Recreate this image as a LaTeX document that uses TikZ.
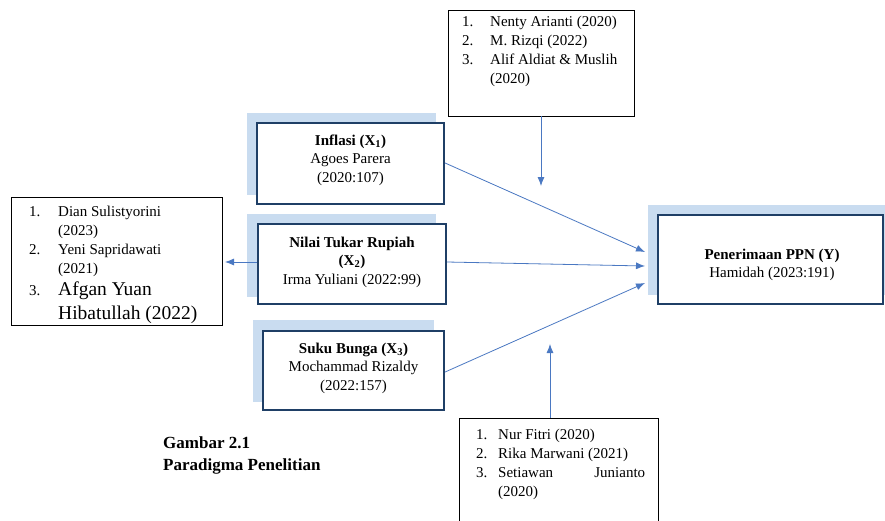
\documentclass[tikz,border=0pt]{standalone}
\usepackage{fontspec}
\setmainfont{Liberation Serif}
\usetikzlibrary{arrows.meta}
\definecolor{boxblue}{HTML}{1F3F66}
\definecolor{shadowblue}{HTML}{C9DCF0}
\definecolor{arrowblue}{HTML}{4A78C2}
\begin{document}
\begin{tikzpicture}[x=1pt,y=-1pt,
  varbox/.style={draw=boxblue,line width=2.2pt,fill=white,align=center,inner sep=0pt,
    font=\fontsize{15}{19}\selectfont},
  vartext/.style={align=center,inner sep=0pt,font=\fontsize{15}{18.5}\selectfont},
  refbox/.style={draw=black,line width=0.8pt,fill=white,inner sep=0pt},
  conn/.style={draw=arrowblue,line width=0.8pt,-{Latex[length=9pt,width=7pt]}},
  reftext/.style={anchor=north west,inner sep=0pt,align=left,font=\fontsize{15}{19}\selectfont},
  captext/.style={anchor=north west,inner sep=0pt,align=left,font=\fontsize{17}{22}\selectfont\bfseries}]
\useasboundingbox (0,0) rectangle (885,520);
\fill[white] (0,0) rectangle (885,520);
% shadows
\fill[shadowblue] (247,113) rectangle (436,195);
\fill[shadowblue] (247,214) rectangle (436,297);
\fill[shadowblue] (253,320) rectangle (434,402);
\fill[shadowblue] (648,205) rectangle (885,295);
% variable boxes
\node[varbox,minimum width=187pt,minimum height=81pt] (x1) at (350.5,163.5) {};
\node[vartext] (x1t) at (350.5,160)
  {\textbf{Inflasi (X\textsubscript{1})}\\Agoes Parera\\(2020:107)};
\node[varbox,minimum width=188pt,minimum height=80pt] (x2) at (352,264) {};
\node[vartext] (x2t) at (352,262)
  {\textbf{Nilai Tukar Rupiah}\\\textbf{(X\textsubscript{2})}\\Irma Yuliani (2022:99)};
\node[varbox,minimum width=181pt,minimum height=79pt] (x3) at (353.5,370.5) {};
\node[vartext] (x3t) at (353.5,368)
  {\textbf{Suku Bunga (X\textsubscript{3})}\\Mochammad Rizaldy\\(2022:157)};
\node[varbox,minimum width=225pt,minimum height=89pt] (y) at (770.5,259.5) {};
\node[vartext] (yt) at (772,265)
  {\textbf{Penerimaan PPN (Y)}\\Hamidah (2023:191)};
% reference boxes
\node[refbox,minimum width=186pt,minimum height=106pt] (rtop) at (541,63) {};
\node[refbox,minimum width=211pt,minimum height=128pt] (rleft) at (116.5,261) {};
\node[refbox,minimum width=199pt,minimum height=112pt] (rbot) at (558.5,474) {};
\node[reftext] (ttop) at (462,13) {\begin{tabular}{@{}p{28pt}@{}l@{}}
1. & Nenty Arianti (2020)\\
2. & M. Rizqi (2022)\\
3. & Alif Aldiat \& Muslih\\
   & (2020)
\end{tabular}};
\node[reftext] (tleft) at (29,203) {\begin{tabular}{@{}p{29pt}@{}l@{}}
1. & Dian Sulistyorini\\
   & (2023)\\
2. & Yeni Sapridawati\\
   & (2021)\\[3pt]
3. & {\fontsize{19.5}{23}\selectfont Afgan Yuan}\\[4pt]
   & {\fontsize{19.5}{23}\selectfont Hibatullah (2022)}
\end{tabular}};
\node[reftext] (tbot) at (476,426) {\begin{tabular}{@{}p{22pt}@{}l@{}}
1. & Nur Fitri (2020)\\
2. & Rika Marwani (2021)\\
3. & \makebox[147pt][l]{Setiawan\hfill Junianto}\\
   & (2020)
\end{tabular}};
% caption
\node[captext] (cap) at (163,436) {Gambar 2.1\\Paradigma Penelitian};
% connectors
\coordinate (t1) at (645,252);
\coordinate (t2) at (645,266);
\coordinate (t3) at (645,283);
\coordinate (ttopend) at (541,186);
\coordinate (tbotend) at (550,344);
\coordinate (tleftend) at (225,262);
\draw[conn] (x1.east |- 0,163) -- (t1);
\draw[conn] (x2.east |- 0,262) -- (t2);
\draw[conn] (x3.east |- 0,372) -- (t3);
\draw[conn] (rtop.south -| ttopend) -- (ttopend);
\draw[conn] (rbot.north -| tbotend) -- (tbotend);
\draw[conn] (x2.west |- 0,262) -- (tleftend);
\end{tikzpicture}
\end{document}
